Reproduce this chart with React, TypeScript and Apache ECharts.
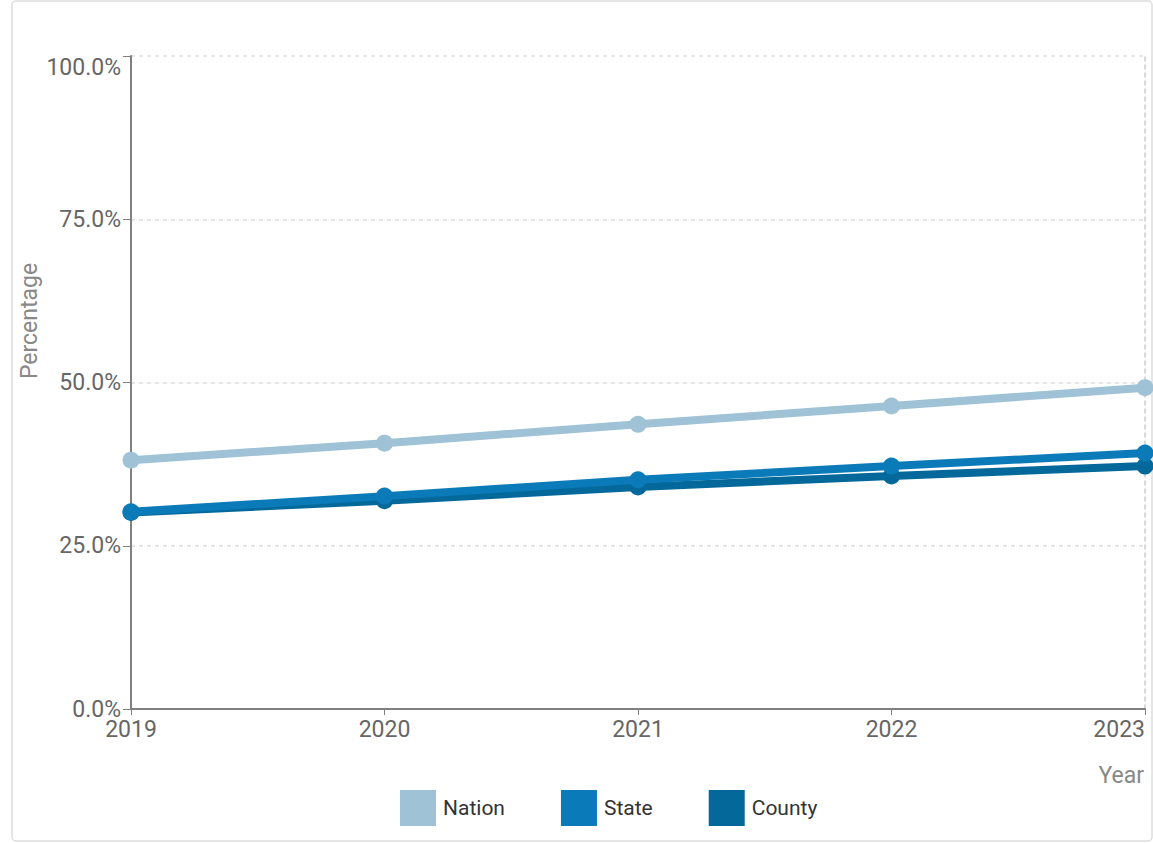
import React, { useEffect, useRef } from "react";
import * as echarts from "echarts";

const years = ["2019", "2020", "2021", "2022", "2023"];
const nation = [38.1, 40.7, 43.6, 46.4, 49.2];
const state = [30.2, 32.6, 35.1, 37.2, 39.2];
const county = [30.1, 31.9, 34.0, 35.7, 37.2];
const seriesNames = ["Nation", "State", "County"];
const colors = ["#9fc2d6", "#0a7bb8", "#04699a"];

export default function App() {
  const ref = useRef<HTMLDivElement>(null);
  useEffect(() => {
    document.body.style.margin = "0";
    const chart = echarts.init(ref.current!, null, { renderer: "svg" });
    const datas = [nation, state, county];
    const font = "Roboto, sans-serif";
    chart.setOption({
      animation: false,
      color: colors,
      textStyle: { fontFamily: font },
      grid: { left: 131, right: 8, top: 56, bottom: 134, containLabel: false, outerBoundsMode: "none" },
      legend: {
        data: seriesNames.map((n) => ({ name: n, icon: "rect" })),
        left: 395,
        top: 785,
        itemWidth: 36,
        itemHeight: 36,
        itemGap: 56,
        textStyle: { fontSize: 21, color: "#333", fontFamily: font, padding: [0, 0, 0, 2] },
      },
      xAxis: {
        type: "category",
        data: years,
        boundaryGap: false,
        axisLine: { show: true, lineStyle: { color: "#808080", width: 2 } },
        axisTick: { show: true, length: 6, lineStyle: { color: "#808080" } },
        axisLabel: { fontSize: 23, color: "#666", margin: 9, fontFamily: font, alignMaxLabel: "right" },
        splitLine: { show: false },
      },
      yAxis: [
        {
          type: "value",
          min: 0,
          max: 100,
          interval: 25,
          axisLine: { show: true, lineStyle: { color: "#808080", width: 2 } },
          axisTick: { show: true, length: 8, lineStyle: { color: "#808080" } },
          axisLabel: {
            fontSize: 23,
            color: "#666",
            margin: 10,
            fontFamily: font,
            verticalAlignMaxLabel: "top",
            formatter: (v: number) => v.toFixed(1) + "%",
          },
          splitLine: { show: true, lineStyle: { color: "#ddd", type: [4, 4], width: 1.5 } },
        },
        {
          type: "value",
          min: 0,
          max: 100,
          interval: 25,
          position: "right",
          axisLine: { show: true, lineStyle: { color: "#ccc", type: [4, 4], width: 1.5 } },
          axisTick: { show: false },
          axisLabel: { show: false },
          splitLine: { show: false },
        },
      ],
      series: seriesNames.map((n, i) => ({
        name: n,
        type: "line",
        data: datas[i],
        symbol: "circle",
        symbolSize: 17,
        lineStyle: { width: 8, color: colors[i] },
        itemStyle: { color: colors[i] },
        z: 3 - i,
      })),
      graphic: [
        {
          type: "rect",
          shape: { x: 12, y: 1, width: 1140, height: 840, r: 4 },
          style: { fill: "none", stroke: "#ddd", lineWidth: 1.5 },
          z: -10,
          silent: true,
        },
        {
          type: "text",
          x: 29,
          y: 321,
          rotation: Math.PI / 2,
          style: {
            text: "Percentage",
            fontSize: 23,
            fill: "#888",
            fontFamily: font,
            align: "center",
            verticalAlign: "middle",
          },
        },
        {
          type: "text",
          x: 1144,
          y: 775,
          style: {
            text: "Year",
            fontSize: 23,
            fill: "#888",
            fontFamily: font,
            align: "right",
            verticalAlign: "middle",
          },
        },
      ],
    });
    return () => chart.dispose();
  }, []);
  return <div ref={ref} style={{ width: 1153, height: 843 }} />;
}
